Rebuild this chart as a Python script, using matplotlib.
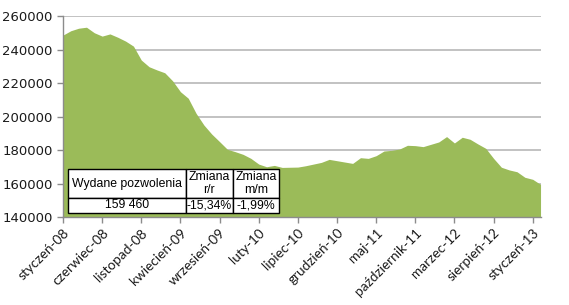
import matplotlib
matplotlib.use("Agg")
import matplotlib.pyplot as plt
import numpy as np

# Monthly values, styczeń-08 .. luty-13
values = [248600, 251200, 252700, 253300, 250000, 248000, 249300, 247300, 245000, 242000,
          233700, 229700, 227800, 226100, 221300, 214800, 210900, 201900, 194900, 189500,
          185000, 180400, 179000, 177400, 175000, 171600, 170000, 170800, 169600, 169700,
          169800, 170600, 171600, 172600, 174400, 173600, 172800, 172000, 175400, 175000,
          176600, 179400, 179800, 180600, 182800, 182600, 182000, 183400, 184800, 188000,
          184200, 187600, 186400, 183600, 181000, 175000, 169700, 168100, 167000, 163700,
          162500, 159460]
tick_labels = ['styczeń-08', 'czerwiec-08', 'listopad-08', 'kwiecień-09', 'wrzesień-09',
               'luty-10', 'lipiec-10', 'grudzień-10', 'maj-11', 'październik-11',
               'marzec-12', 'sierpień-12', 'styczeń-13']
tick_step = 5
y_ticks = [140000, 160000, 180000, 200000, 220000, 240000, 260000]

table_header = ['Wydane pozwolenia', 'Zmiana\nr/r', 'Zmiana\nm/m']
table_row = ['159 460', '-15,34%', '-1,99%']

fig = plt.figure(figsize=(5.69, 3.05), dpi=100)
ax = fig.add_axes([63/569, 1-217/305, 478/569, 201/305])

x = np.arange(len(values))
ax.fill_between(x, values, 140000, color='#9BBB59', linewidth=0, zorder=2)

ax.set_xlim(0, 61.06)
ax.set_ylim(140000, 260000)
ax.set_yticks(y_ticks)
ax.set_yticklabels([str(v) for v in y_ticks], fontsize=9.5, family='DejaVu Sans')
ax.yaxis.grid(True, color='#b8b8b8', linewidth=1.2, zorder=1)
ax.set_axisbelow(True)

ax.set_xticks(x[::tick_step])
ax.set_xticklabels(tick_labels, rotation=45, ha='right', rotation_mode='anchor',
                   fontsize=9.8, family='Lato')

for s in ['top', 'right']:
    ax.spines[s].set_visible(False)
for s in ['left', 'bottom']:
    ax.spines[s].set_color('#8c8c8c')
    ax.spines[s].set_linewidth(1.0)
    ax.spines[s].set_zorder(3)
ax.tick_params(axis='both', colors='#8c8c8c', length=4, width=1, labelcolor='#1a1a1a')
ax.tick_params(axis='x', pad=3)

tbl = ax.table(cellText=[table_header, table_row], cellLoc='center',
               colWidths=[118, 46.7, 46.3],
               bbox=[5/478, 4/201, 211/478, 44/201])
tbl.auto_set_font_size(False)
for (r, c), cell in tbl.get_celld().items():
    cell.set_height(29 if r == 0 else 15)
    cell.set_edgecolor('black')
    cell.set_linewidth(1.0)
    cell.set_facecolor('white')
    cell.get_text().set_fontsize(8.8)
    cell.get_text().set_family('Liberation Sans')
tbl.set_zorder(5)

fig.savefig('out.png', dpi=100)
